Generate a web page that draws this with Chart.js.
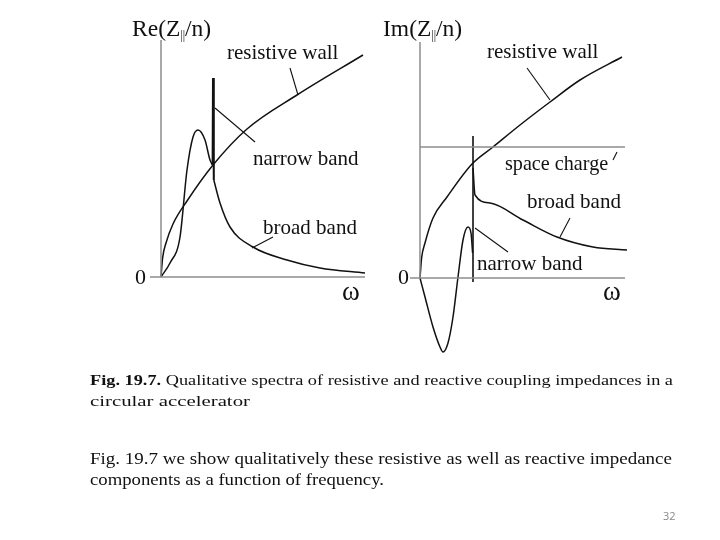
<!DOCTYPE html>
<html>
<head>
<meta charset="utf-8">
<script src="https://cdn.jsdelivr.net/npm/chart.js@4.4.1/dist/chart.umd.min.js"></script>
<style>
  body { margin: 0; background: #fff; }
  #page { position: relative; width: 720px; height: 540px; overflow: hidden; background: #fff; }
  canvas { position: absolute; }
  #reCanvas { left: 120px; top: 0px; }
  #imCanvas { left: 380px; top: 0px; }
  svg { position: absolute; left: 0; top: 0; }
</style>
</head>
<body>
<div id="page">
  <canvas id="reCanvas" width="260" height="310"></canvas>
  <canvas id="imCanvas" width="260" height="370"></canvas>
  <svg width="720" height="540" font-family="'Liberation Serif', 'DejaVu Serif', serif" fill="#111">
    <text x="90" y="385" font-size="15" textLength="583" lengthAdjust="spacingAndGlyphs"><tspan font-weight="bold">Fig. 19.7.</tspan> Qualitative spectra of resistive and reactive coupling impedances in a</text>
    <text x="90" y="406" font-size="15" textLength="160" lengthAdjust="spacingAndGlyphs">circular accelerator</text>
    <text x="90" y="464" font-size="16.5" textLength="582" lengthAdjust="spacingAndGlyphs">Fig. 19.7 we show qualitatively these resistive as well as reactive impedance</text>
    <text x="90" y="485" font-size="16.5" textLength="294" lengthAdjust="spacingAndGlyphs">components as a function of frequency.</text>
    <text x="663" y="520" font-size="11" fill="#888" font-family="'Open Sans', 'Liberation Sans', sans-serif">32</text>
  </svg>
</div>
<script>
// ---- data: Re(Z||/n) panel ----
var reWallX  = [0, 0.08, 0.25, 0.6, 1.3, 2.6, 4.3, 6.8, 10.1];
var reWallY  = [0, 0.95, 1.7, 2.65, 3.8, 5.6, 7.4, 9.1, 11.1];
var reHumpX  = [0, 0.45, 0.95, 1.3, 1.6, 1.85, 2.2, 2.45, 2.58];
var reHumpY  = [0, 0.7, 2.0, 5.35, 7.0, 7.35, 6.85, 5.85, 5.6];
var reSpikeX = [2.58, 2.6, 2.64];
var reSpikeY = [5.6, 9.95, 4.85];
var reDecayX = [2.64, 2.95, 3.45, 4.6, 6.3, 7.95, 10.2];
var reDecayY = [4.85, 3.7, 2.5, 1.5, 0.85, 0.45, 0.2];
var reAxisXEnds = [-0.55, 10.2];
var reAxisYEnds = [0, 11.85];

// ---- data: Im(Z||/n) panel ----
var imWallX  = [0, 0.08, 0.25, 0.65, 1.35, 2.6, 3.65, 5.0, 6.5, 8.0, 10.1];
var imWallY  = [0, 1.0, 1.75, 3.0, 4.05, 5.7, 6.55, 7.65, 8.8, 9.9, 11.05];
var imSpaceX = [0, 10.25];
var imSpaceY = [6.55, 6.55];
var imLowX   = [0, 0.25, 0.65, 1.0, 1.15, 1.4, 1.65, 1.9, 2.15, 2.4, 2.55, 2.63];
var imLowY   = [0, -0.95, -2.45, -3.45, -3.7, -3.25, -1.95, 0.05, 1.9, 2.55, 2.25, 1.25];
var imSpikeX = [2.65, 2.65];
var imSpikeY = [-0.2, 7.1];
var imDecayX = [2.65, 2.75, 3.5, 5.15, 6.85, 8.65, 10.35];
var imDecayY = [5.5, 4.15, 3.75, 2.9, 2.05, 1.55, 1.4];
var imAxisXEnds = [-0.5, 10.25];
var imAxisYEnds = [0, 11.8];

//zip two arrays into scatter points
function pts(xs, ys) {
	var out = [];
	for (var i = 0; i < xs.length; i++) {
		out.push({x: xs[i], y: ys[i]});
	}
	return out;
}

var INK = '#111';
var AXIS = '#8c8c8c';
var SERIF = "'Liberation Serif', 'DejaVu Serif', serif";

function curve(data, opts) {
	var ds = {
		data: data,
		showLine: true,
		pointRadius: 0,
		borderColor: INK,
		borderWidth: 1.5,
		fill: false,
		clip: false,
		cubicInterpolationMode: 'monotone'
	};
	for (var k in opts) ds[k] = opts[k];
	return ds;
}

//draws annotation texts and leader lines in data coordinates
var labelPlugin = {
	id: 'figLabels',
	afterDatasetsDraw: function(chart) {
		var cfg = chart.options.plugins.figLabels;
		if (!cfg) return;
		var ctx = chart.ctx;
		var xs = chart.scales.x, ys = chart.scales.y;
		ctx.save();
		ctx.fillStyle = INK;
		ctx.strokeStyle = INK;
		ctx.lineWidth = 1.1;
		ctx.textBaseline = 'alphabetic';
		(cfg.leaders || []).forEach(function(l) {
			ctx.beginPath();
			ctx.moveTo(xs.getPixelForValue(l[0]), ys.getPixelForValue(l[1]));
			ctx.lineTo(xs.getPixelForValue(l[2]), ys.getPixelForValue(l[3]));
			ctx.stroke();
		});
		(cfg.texts || []).forEach(function(t) {
			var px = xs.getPixelForValue(t.x);
			var py = ys.getPixelForValue(t.y);
			var parts = t.parts || [{s: t.text}];
			parts.forEach(function(p) {
				var size = p.sub ? t.size * 0.5 : t.size;
				ctx.font = size + 'px ' + SERIF;
				var w = ctx.measureText(p.s).width * (t.squeeze || 1);
				ctx.save();
				ctx.translate(px, py + (p.sub ? t.size * 0.12 : 0));
				ctx.scale(t.squeeze || 1, 1);
				ctx.fillText(p.s, 0, 0);
				ctx.restore();
				px += w;
			});
		});
		ctx.restore();
	}
};

function makeChart(id, datasets, xRange, yRange, labels) {
	return new Chart(document.getElementById(id), {
		type: 'scatter',
		data: { datasets: datasets },
		options: {
			responsive: false,
			animation: false,
			devicePixelRatio: 1,
			layout: { padding: 0 },
			plugins: {
				legend: { display: false },
				tooltip: { enabled: false },
				figLabels: labels
			},
			scales: {
				x: { type: 'linear', display: false, min: xRange[0], max: xRange[1] },
				y: { type: 'linear', display: false, min: yRange[0], max: yRange[1] }
			}
		},
		plugins: [labelPlugin]
	});
}

makeChart('reCanvas', [
	curve(pts(reAxisXEnds, [0, 0]), {borderColor: AXIS, borderWidth: 1.5}),
	curve(pts([0, 0], reAxisYEnds), {borderColor: AXIS, borderWidth: 1.5}),
	curve(pts(reWallX, reWallY)),
	curve(pts(reHumpX, reHumpY)),
	curve(pts(reSpikeX, reSpikeY), {borderWidth: 2, cubicInterpolationMode: 'default', tension: 0}),
	curve(pts(reDecayX, reDecayY))
], [-2.05, 10.95], [-1.65, 13.85], {
	texts: [
		{parts: [{s: 'Re(Z'}, {s: '||', sub: true}, {s: '/n)'}], x: -1.45, y: 12.05, size: 24, squeeze: 0.98},
		{text: 'resistive wall', x: 3.3, y: 10.9, size: 21, squeeze: 1.0},
		{text: 'narrow band', x: 4.6, y: 5.6, size: 21, squeeze: 1.0},
		{text: 'broad band', x: 5.1, y: 2.15, size: 21, squeeze: 1.0},
		{text: '0', x: -1.3, y: -0.35, size: 22},
		{text: 'ω', x: 9.05, y: -1.15, size: 27}
	],
	leaders: [
		[6.45, 10.45, 6.85, 9.1],
		[2.7, 8.45, 4.7, 6.75],
		[5.6, 2.0, 4.55, 1.45]
	]
});

makeChart('imCanvas', [
	curve(pts(imAxisXEnds, [0, 0]), {borderColor: AXIS, borderWidth: 1.5}),
	curve(pts([0, 0], imAxisYEnds), {borderColor: AXIS, borderWidth: 1.5}),
	curve(pts(imSpaceX, imSpaceY), {borderColor: AXIS, borderWidth: 1.5}),
	curve(pts(imWallX, imWallY)),
	curve(pts(imLowX, imLowY)),
	curve(pts(imSpikeX, imSpikeY), {borderWidth: 1.6, cubicInterpolationMode: 'default', tension: 0}),
	curve(pts(imDecayX, imDecayY))
], [-2.0, 11.0], [-4.6, 13.9], {
	texts: [
		{parts: [{s: 'Im(Z'}, {s: '||', sub: true}, {s: '/n)'}], x: -1.85, y: 12.1, size: 24, squeeze: 0.98},
		{text: 'resistive wall', x: 3.35, y: 11.0, size: 21, squeeze: 1.0},
		{text: 'space charge', x: 4.25, y: 5.4, size: 21, squeeze: 0.96},
		{text: 'broad band', x: 5.35, y: 3.5, size: 21, squeeze: 1.0},
		{text: 'narrow band', x: 2.85, y: 0.4, size: 21, squeeze: 1.0},
		{text: '0', x: -1.1, y: -0.3, size: 22},
		{text: 'ω', x: 9.15, y: -1.1, size: 27}
	],
	leaders: [
		[5.35, 10.5, 6.5, 8.9],
		[9.65, 5.9, 9.85, 6.3],
		[7.5, 3.0, 7.0, 2.05],
		[2.75, 2.5, 4.4, 1.3]
	]
});
</script>
</body>
</html>
